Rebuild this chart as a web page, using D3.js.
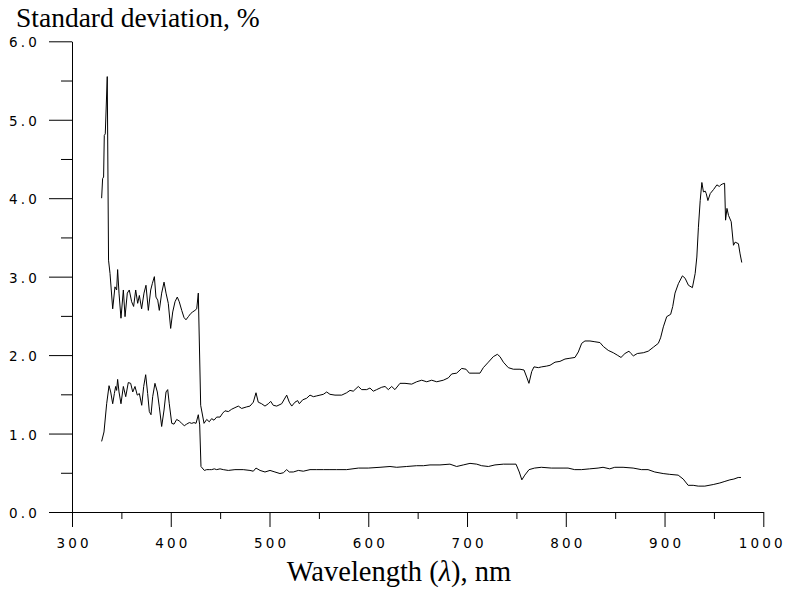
<!DOCTYPE html>
<html>
<head>
<meta charset="utf-8">
<script src="https://cdn.jsdelivr.net/npm/d3@7"></script>
<style>
  body { margin: 0; background: #fff; }
  .tick text { font-family: "DejaVu Sans", sans-serif; font-size: 13.5px; letter-spacing: 3.2px; fill: #000; }
  .tick line, .domain { stroke: #000; stroke-width: 1; }
</style>
</head>
<body>
<div id="container"></div>
<script>
// wavelength (nm) and standard deviation (%)
let upperNm = [330, 331, 332, 332.7, 333.7, 335.7, 337, 338.5, 341.2, 343.5, 345.2, 346.2, 347.6, 349.6, 352, 353.7, 356, 358, 360.4, 362.4, 364.5, 366.5, 368.2, 370.5, 372.9, 374.9, 377.3, 379.7, 381.3, 383.4, 385, 386.8, 388.4, 390.8, 393.2, 395.2, 397.5, 399.9, 402, 404.3, 406.6, 408.6, 411.1, 413.4, 415.4, 417.8, 420.2, 422.2, 424.5, 426.3, 427.9, 430.3, 433.7, 436.4, 439, 441.4, 443.8, 446.5, 449.9, 452.6, 454.9, 458.3, 461.7, 465, 468.4, 471.8, 476.9, 480.2, 483.6, 486.3, 488.6, 492, 495.4, 498.8, 501.2, 503.8, 507.3, 512.3, 517.4, 520, 522.5, 525.8, 528.5, 530.2, 533.6, 537.6, 541, 544.4, 547.8, 551.1, 554.5, 557.9, 561.2, 566.3, 573.1, 578.1, 581.5, 584.8, 589.9, 593.3, 598.4, 601.7, 605.1, 608.5, 613.6, 617, 620.3, 623.7, 627, 632.1, 637.2, 644, 649, 654.1, 659.2, 664.2, 669.3, 676, 681.1, 684.5, 689.5, 694.6, 699, 702.3, 708.1, 713.1, 716.5, 721.6, 726.6, 730.7, 733.4, 736.8, 741.8, 746.9, 753.6, 757.7, 760.4, 762.7, 765.5, 767.8, 772.2, 775.6, 780.6, 784, 789.1, 794.1, 799.2, 804.2, 809.3, 812.7, 816.1, 819.4, 824.5, 829.5, 834.6, 838, 843, 848.1, 852.1, 855.9, 859.9, 864, 866, 868.4, 872.4, 878.5, 883.5, 888.6, 893.7, 896, 898.8, 902.2, 906.2, 908.3, 910.6, 914, 918.1, 920.8, 924.2, 928.2, 931, 932.7, 934.3, 936.1, 937.8, 939.4, 941.2, 942.2, 943.9, 946.3, 949.6, 953, 955.4, 957.1, 958.4, 960.8, 961.8, 963.2, 964.8, 967.5, 969.8, 971.5, 974.8, 976.5, 978.2];
let upperSd = [4.0, 4.25, 4.27, 4.8, 4.82, 5.55, 3.21, 3.04, 2.59, 2.87, 2.83, 3.09, 2.79, 2.47, 2.83, 2.49, 2.79, 2.83, 2.68, 2.62, 2.83, 2.66, 2.76, 2.59, 2.79, 2.89, 2.57, 2.83, 2.91, 3.0, 2.74, 2.70, 2.57, 2.79, 2.93, 2.79, 2.66, 2.34, 2.55, 2.68, 2.74, 2.68, 2.57, 2.48, 2.45, 2.49, 2.53, 2.55, 2.57, 2.59, 2.79, 1.36, 1.13, 1.18, 1.15, 1.19, 1.17, 1.21, 1.21, 1.26, 1.29, 1.28, 1.31, 1.33, 1.35, 1.32, 1.34, 1.35, 1.40, 1.52, 1.40, 1.38, 1.35, 1.38, 1.41, 1.36, 1.35, 1.38, 1.49, 1.40, 1.35, 1.40, 1.42, 1.38, 1.43, 1.45, 1.49, 1.47, 1.48, 1.49, 1.50, 1.53, 1.50, 1.49, 1.49, 1.52, 1.55, 1.54, 1.60, 1.56, 1.56, 1.58, 1.54, 1.56, 1.59, 1.60, 1.56, 1.60, 1.56, 1.64, 1.64, 1.63, 1.66, 1.68, 1.66, 1.68, 1.66, 1.68, 1.71, 1.76, 1.77, 1.83, 1.82, 1.77, 1.77, 1.77, 1.84, 1.91, 1.98, 2.01, 1.98, 1.91, 1.84, 1.82, 1.82, 1.81, 1.72, 1.64, 1.79, 1.85, 1.84, 1.85, 1.86, 1.87, 1.91, 1.92, 1.95, 1.96, 1.97, 2.04, 2.15, 2.18, 2.18, 2.17, 2.16, 2.11, 2.06, 2.03, 2.0, 1.97, 2.02, 2.05, 2.02, 1.99, 2.02, 2.03, 2.05, 2.10, 2.15, 2.22, 2.36, 2.49, 2.52, 2.62, 2.79, 2.91, 3.01, 2.98, 2.89, 2.86, 3.04, 3.25, 3.63, 3.97, 4.20, 4.08, 4.09, 4.06, 3.97, 4.06, 4.11, 4.17, 4.15, 4.17, 4.18, 4.19, 3.72, 3.87, 3.78, 3.70, 3.40, 3.44, 3.42, 3.29, 3.18];

let lowerNm = [330, 332.4, 335.1, 337.5, 339.2, 341.2, 342.9, 344.2, 345.2, 346.2, 347.6, 349.6, 352, 354.4, 357, 359.4, 361.5, 363.8, 366.1, 368.2, 370.6, 372.6, 374.6, 376.6, 378.3, 380, 381.7, 384, 386.4, 388.4, 390.8, 393.2, 395.2, 396.9, 398.5, 401, 403.3, 406, 408.6, 411.1, 413.7, 416.1, 418.8, 421.2, 423.5, 425.6, 427.9, 429.3, 430.6, 434, 436.4, 439, 441.4, 444.1, 446.5, 449.9, 453.2, 458.3, 465, 473.4, 480.2, 483.6, 486.3, 490.4, 495.4, 500.5, 505.5, 510.6, 514, 517.4, 520, 524.1, 529.2, 534.2, 541, 547.8, 554.5, 561.2, 568, 578.1, 590, 600, 611.9, 622, 628.8, 638.9, 649, 655.8, 662.5, 672.6, 682.7, 689.5, 696.2, 703, 709.8, 714.8, 721.6, 728.3, 736.8, 743.5, 749.6, 752.9, 755.5, 758.5, 762.8, 768.4, 775.2, 785.3, 797.2, 802.3, 809, 815.8, 824.2, 832.7, 837.7, 844.5, 849.6, 858, 868.2, 876.6, 883.3, 890.1, 898.6, 905.3, 913.8, 918.9, 923.9, 929, 934.1, 940.8, 949.3, 956, 961.1, 966.2, 970.2, 974.6, 977.4];
let lowerSd = [0.90, 1.02, 1.38, 1.61, 1.53, 1.38, 1.51, 1.60, 1.55, 1.69, 1.53, 1.38, 1.60, 1.47, 1.65, 1.64, 1.53, 1.60, 1.49, 1.51, 1.36, 1.60, 1.75, 1.51, 1.28, 1.24, 1.47, 1.64, 1.53, 1.34, 1.09, 1.30, 1.53, 1.56, 1.38, 1.13, 1.12, 1.18, 1.16, 1.13, 1.10, 1.12, 1.14, 1.13, 1.14, 1.13, 1.24, 1.11, 0.58, 0.53, 0.54, 0.54, 0.54, 0.55, 0.54, 0.55, 0.54, 0.53, 0.54, 0.54, 0.53, 0.52, 0.56, 0.53, 0.51, 0.53, 0.51, 0.49, 0.50, 0.54, 0.51, 0.51, 0.53, 0.52, 0.54, 0.54, 0.54, 0.54, 0.54, 0.54, 0.56, 0.56, 0.57, 0.58, 0.57, 0.58, 0.59, 0.59, 0.60, 0.60, 0.61, 0.58, 0.60, 0.62, 0.61, 0.59, 0.58, 0.60, 0.61, 0.61, 0.61, 0.51, 0.41, 0.47, 0.54, 0.56, 0.57, 0.56, 0.56, 0.56, 0.54, 0.54, 0.55, 0.56, 0.57, 0.55, 0.57, 0.57, 0.56, 0.54, 0.54, 0.51, 0.49, 0.48, 0.47, 0.42, 0.34, 0.34, 0.33, 0.33, 0.35, 0.37, 0.39, 0.41, 0.42, 0.44, 0.44];

let xMajor = [300, 400, 500, 600, 700, 800, 900, 1000];
let xMinor = [350, 450, 550, 650, 750, 850, 950];
let yMajor = [0, 1, 2, 3, 4, 5, 6];
let yMinor = [0.5, 1.5, 2.5, 3.5, 4.5, 5.5];

let w = 788;
let h = 591;
let ls = 3.2; // letter spacing of tick labels

let viz = d3.select("#container")
    .append("svg")
    .attr("width", w)
    .attr("height", h)
    .style("background", "#fff");

let xScale = d3.scaleLinear().domain([300, 1000]).range([72, 763.3]);
let yScale = d3.scaleLinear().domain([0, 6]).range([512, 41.3]);

// y axis: minor ticks first, then major with labels
viz.append("g")
    .attr("transform", "translate(72,0)")
    .call(d3.axisLeft(yScale).tickValues(yMinor).tickSize(11).tickSizeOuter(0).tickFormat(""))
    .select(".domain").remove();

let yAxisGroup = viz.append("g")
    .attr("transform", "translate(72,0)")
    .call(d3.axisLeft(yScale).tickValues(yMajor).tickSize(23).tickSizeOuter(0).tickPadding(9).tickFormat(d3.format(".1f")));
yAxisGroup.selectAll("text").attr("dy", "0.42em");

// x axis
viz.append("g")
    .attr("transform", "translate(0,512)")
    .call(d3.axisBottom(xScale).tickValues(xMinor).tickSize(7).tickSizeOuter(0).tickFormat(""))
    .select(".domain").remove();

let xAxisGroup = viz.append("g")
    .attr("transform", "translate(0,512)")
    .call(d3.axisBottom(xScale).tickValues(xMajor).tickSize(15).tickSizeOuter(0).tickPadding(11).tickFormat(d3.format("d")));
// shift by half the trailing spacing; the last label is pulled in a bit so it stays inside
xAxisGroup.selectAll("text").attr("dx", d => d == 1000 ? -1.5 : ls / 2);

// the two curves
let line = d3.line()
    .x(d => xScale(d[0]))
    .y(d => yScale(d[1]));

let series = [
    d3.zip(upperNm, upperSd),
    d3.zip(lowerNm, lowerSd)
];

viz.append("g").selectAll("path.curve")
    .data(series)
    .enter()
    .append("path")
    .attr("class", "curve")
    .attr("d", line)
    .attr("fill", "none")
    .attr("stroke", "#000")
    .attr("stroke-width", 1);

// titles
viz.append("text")
    .attr("x", 16)
    .attr("y", 27)
    .attr("font-family", "'Liberation Serif', 'Times New Roman', serif")
    .attr("font-size", 27.5)
    .text("Standard deviation, %");

let xTitle = viz.append("text")
    .attr("x", 399)
    .attr("y", 581)
    .attr("text-anchor", "middle")
    .attr("font-family", "'Liberation Serif', 'Times New Roman', serif")
    .attr("font-size", 28.5);
xTitle.append("tspan").text("Wavelength (");
xTitle.append("tspan").attr("font-style", "italic").text("λ");
xTitle.append("tspan").text("), nm");
</script>
</body>
</html>
